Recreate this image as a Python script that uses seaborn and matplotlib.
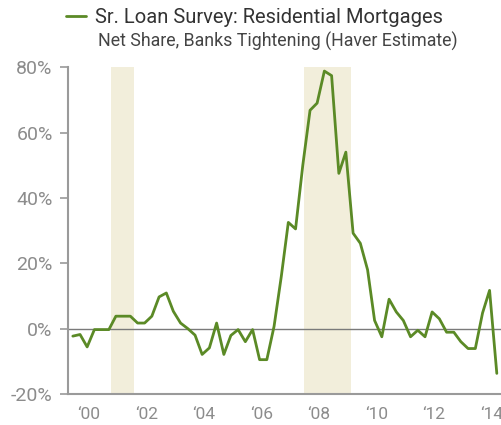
import numpy as np
import pandas as pd
import matplotlib
matplotlib.use("Agg")
import matplotlib.pyplot as plt
import seaborn as sns

# quarterly survey readings, net % of banks tightening
quarters = pd.date_range("1999-11-01", periods=60, freq="3MS")
net_tightening = [
    -2.3, -1.8, -5.6, -0.3, -0.3, -0.3, 3.8, 3.8, 3.8, 1.7,
    1.7, 3.8, 9.7, 10.9, 5.3, 1.7, 0.0, -2.0, -7.9, -5.9,
    1.7, -7.9, -2.1, -0.3, -4.0, -0.3, -9.5, -9.5, 0.7, 16.0,
    32.5, 30.5, 50.0, 66.8, 69.0, 78.8, 77.4, 47.5, 54.0, 29.2,
    26.1, 18.0, 2.5, -2.5, 9.0, 5.1, 2.5, -2.5, -0.5, -2.5,
    5.1, 3.0, -1.1, -1.1, -4.0, -6.1, -6.1, 4.8, 11.7, -13.7,
]
recession_start = ["2001-03-01", "2007-11-20"]
recession_end = ["2001-12-15", "2009-07-01"]
y_ticks = [-20, 0, 20, 40, 60, 80]
tick_years = [2000, 2002, 2004, 2006, 2008, 2010, 2012, 2014]

df = pd.DataFrame({"date": quarters, "value": net_tightening})

sns.set_style("white")
plt.rcParams["font.family"] = ["Roboto", "DejaVu Sans"]

green = "#5b8a26"
grey = "#8c8c8c"

fig = plt.figure(figsize=(5.02, 4.25), dpi=100)
ax = fig.add_axes([0.1355, 0.073, 0.862, 0.769])

for s, e in zip(recession_start, recession_end):
    ax.axvspan(pd.Timestamp(s), pd.Timestamp(e), color="#f2eedb", lw=0, zorder=0)

ax.axhline(0, color="#7a7a7a", lw=1.0, zorder=1)
sns.lineplot(data=df, x="date", y="value", color=green, lw=2.0, ax=ax,
             label="Sr. Loan Survey: Residential Mortgages", zorder=3)

ax.set_ylim(-20, 80)
ax.set_xlim(pd.Timestamp("1999-09-01"), pd.Timestamp("2014-09-20"))
ax.set_yticks(y_ticks)
ax.set_yticklabels([f"{v}%" for v in y_ticks])
ax.set_xticks([pd.Timestamp(f"{y}-01-01") for y in tick_years])
ax.set_xticklabels([f"\u2018{str(y)[2:]}" for y in tick_years], ha="left")
ax.set_xlabel("")
ax.set_ylabel("")

for side in ["top", "right"]:
    ax.spines[side].set_visible(False)
for side in ["left", "bottom"]:
    ax.spines[side].set_color("#9a9a9a")
    ax.spines[side].set_linewidth(1.5)

ax.tick_params(axis="y", left=True, length=6, width=1.2, color="#9a9a9a",
               labelsize=14, labelcolor=grey, pad=5)
ax.tick_params(axis="x", bottom=False, labelsize=12.5, labelcolor=grey, pad=6)

leg = ax.legend(loc="upper left", bbox_to_anchor=(66 / 502, 1 - 8 / 425),
                bbox_transform=fig.transFigure, frameon=False, fontsize=14.5,
                handlelength=1.0, handletextpad=0.45, borderpad=0, borderaxespad=0)
for t in leg.get_texts():
    t.set_color("#333333")
fig.text(98 / 502, 1 - 41 / 425, "Net Share, Banks Tightening (Haver Estimate)",
         fontsize=12.8, color="#444444", va="center", ha="left")

fig.savefig("out.png", dpi=100)
